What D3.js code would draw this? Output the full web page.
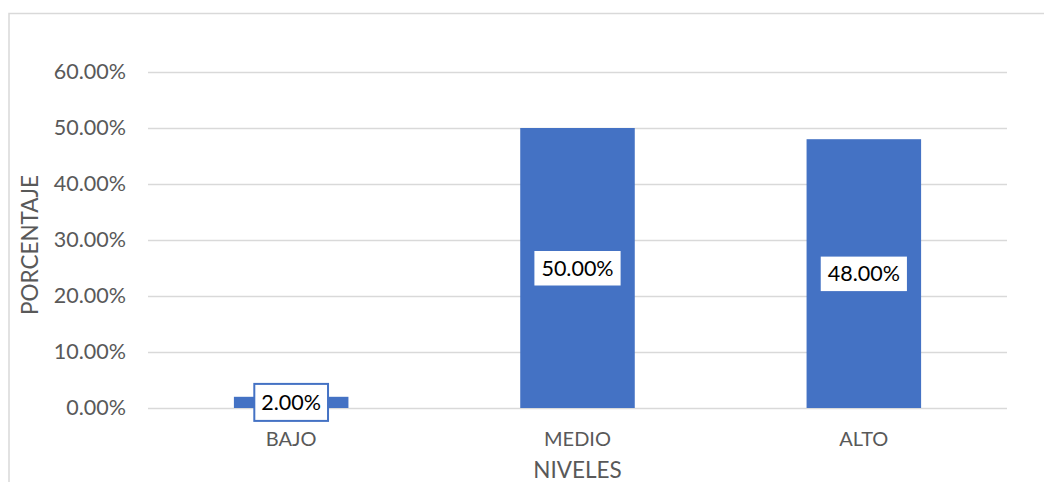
<!DOCTYPE html>
<html>
<head>
<meta charset="utf-8">
<script src="https://cdn.jsdelivr.net/npm/d3@7"></script>
<style>
  html, body { margin: 0; padding: 0; background: #fff; }
  svg { display: block; font-family: Lato, "Open Sans", sans-serif; }
</style>
</head>
<body>
<svg id="chart" width="1044" height="482"></svg>
<script>
// Distribution of levels (percent)
const categories = ["BAJO", "MEDIO", "ALTO"];
const values = [2, 50, 48];
const yTicks = [0, 10, 20, 30, 40, 50, 60];

const svg = d3.select("#chart");
const W = 1044, H = 482;
const m = { left: 148, right: 37, top: 72, bottom: 74 };

// chart frame
svg.append("rect")
  .attr("x", 9).attr("y", 13.5)
  .attr("width", W + 20).attr("height", H + 20)
  .attr("fill", "none").attr("stroke", "#d9d9d9").attr("stroke-width", 1.5);

const x = d3.scaleBand().domain(categories).range([m.left, W - m.right]).paddingInner(0.6).paddingOuter(0.3);
const y = d3.scaleLinear().domain([0, 60]).range([H - m.bottom, m.top]);

// gridlines + tick labels
const yAxis = d3.axisLeft(y).tickValues(yTicks)
  .tickSize(-(W - m.right - m.left))
  .tickFormat(d => d.toFixed(2) + "%")
  .tickPadding(22);
const gy = svg.append("g").attr("transform", `translate(${m.left},0)`).call(yAxis);
gy.select(".domain").remove();
gy.selectAll(".tick line").attr("stroke", "#d9d9d9").attr("stroke-width", 1.5);
gy.selectAll(".tick text").attr("fill", "#595959")
  .style("font-size", "21.5px").style("font-family", "Lato, 'Open Sans', sans-serif");

// bars
svg.append("g").selectAll("rect").data(values).join("rect")
  .attr("x", (d, i) => x(categories[i]))
  .attr("width", x.bandwidth())
  .attr("y", d => y(d))
  .attr("height", d => y(0) - y(d))
  .attr("fill", "#4472c4");

// category labels
const xAxis = d3.axisBottom(x).tickSize(0).tickPadding(24);
const gx = svg.append("g").attr("transform", `translate(0,${y(0)})`).call(xAxis);
gx.select(".domain").remove();
gx.selectAll(".tick text").attr("fill", "#595959")
  .style("font-size", "20px").style("font-family", "Lato, 'Open Sans', sans-serif");

// data labels
const lbl = svg.append("g").selectAll("g").data(values).join("g")
  .attr("transform", (d, i) => `translate(${x(categories[i]) + x.bandwidth() / 2},${(y(d) + y(0)) / 2})`);
lbl.append("text")
  .attr("text-anchor", "middle").attr("dy", "0.36em")
  .attr("fill", "#000").style("font-size", "21.5px")
  .text(d => d.toFixed(2) + "%");
lbl.each(function(d) {
  const g = d3.select(this);
  const bb = g.select("text").node().getBBox();
  const small = (y(0) - y(d)) < bb.height + 8;
  g.insert("rect", "text")
    .attr("x", bb.x - 7).attr("y", small ? -18.5 : -17)
    .attr("width", bb.width + 14).attr("height", small ? 37 : 34.5)
    .attr("fill", "#fff")
    .attr("stroke", small ? "#4472c4" : "none").attr("stroke-width", 2);
});

// axis titles
svg.append("text")
  .attr("transform", `translate(38,${(y(0) + y(60)) / 2 + 5}) rotate(-90)`)
  .attr("text-anchor", "middle")
  .attr("fill", "#595959").style("font-size", "22.5px")
  .text("PORCENTAJE");
svg.append("text")
  .attr("x", (m.left + W - m.right) / 2).attr("y", 478)
  .attr("text-anchor", "middle")
  .attr("fill", "#595959").style("font-size", "22.5px")
  .text("NIVELES");
</script>
</body>
</html>
